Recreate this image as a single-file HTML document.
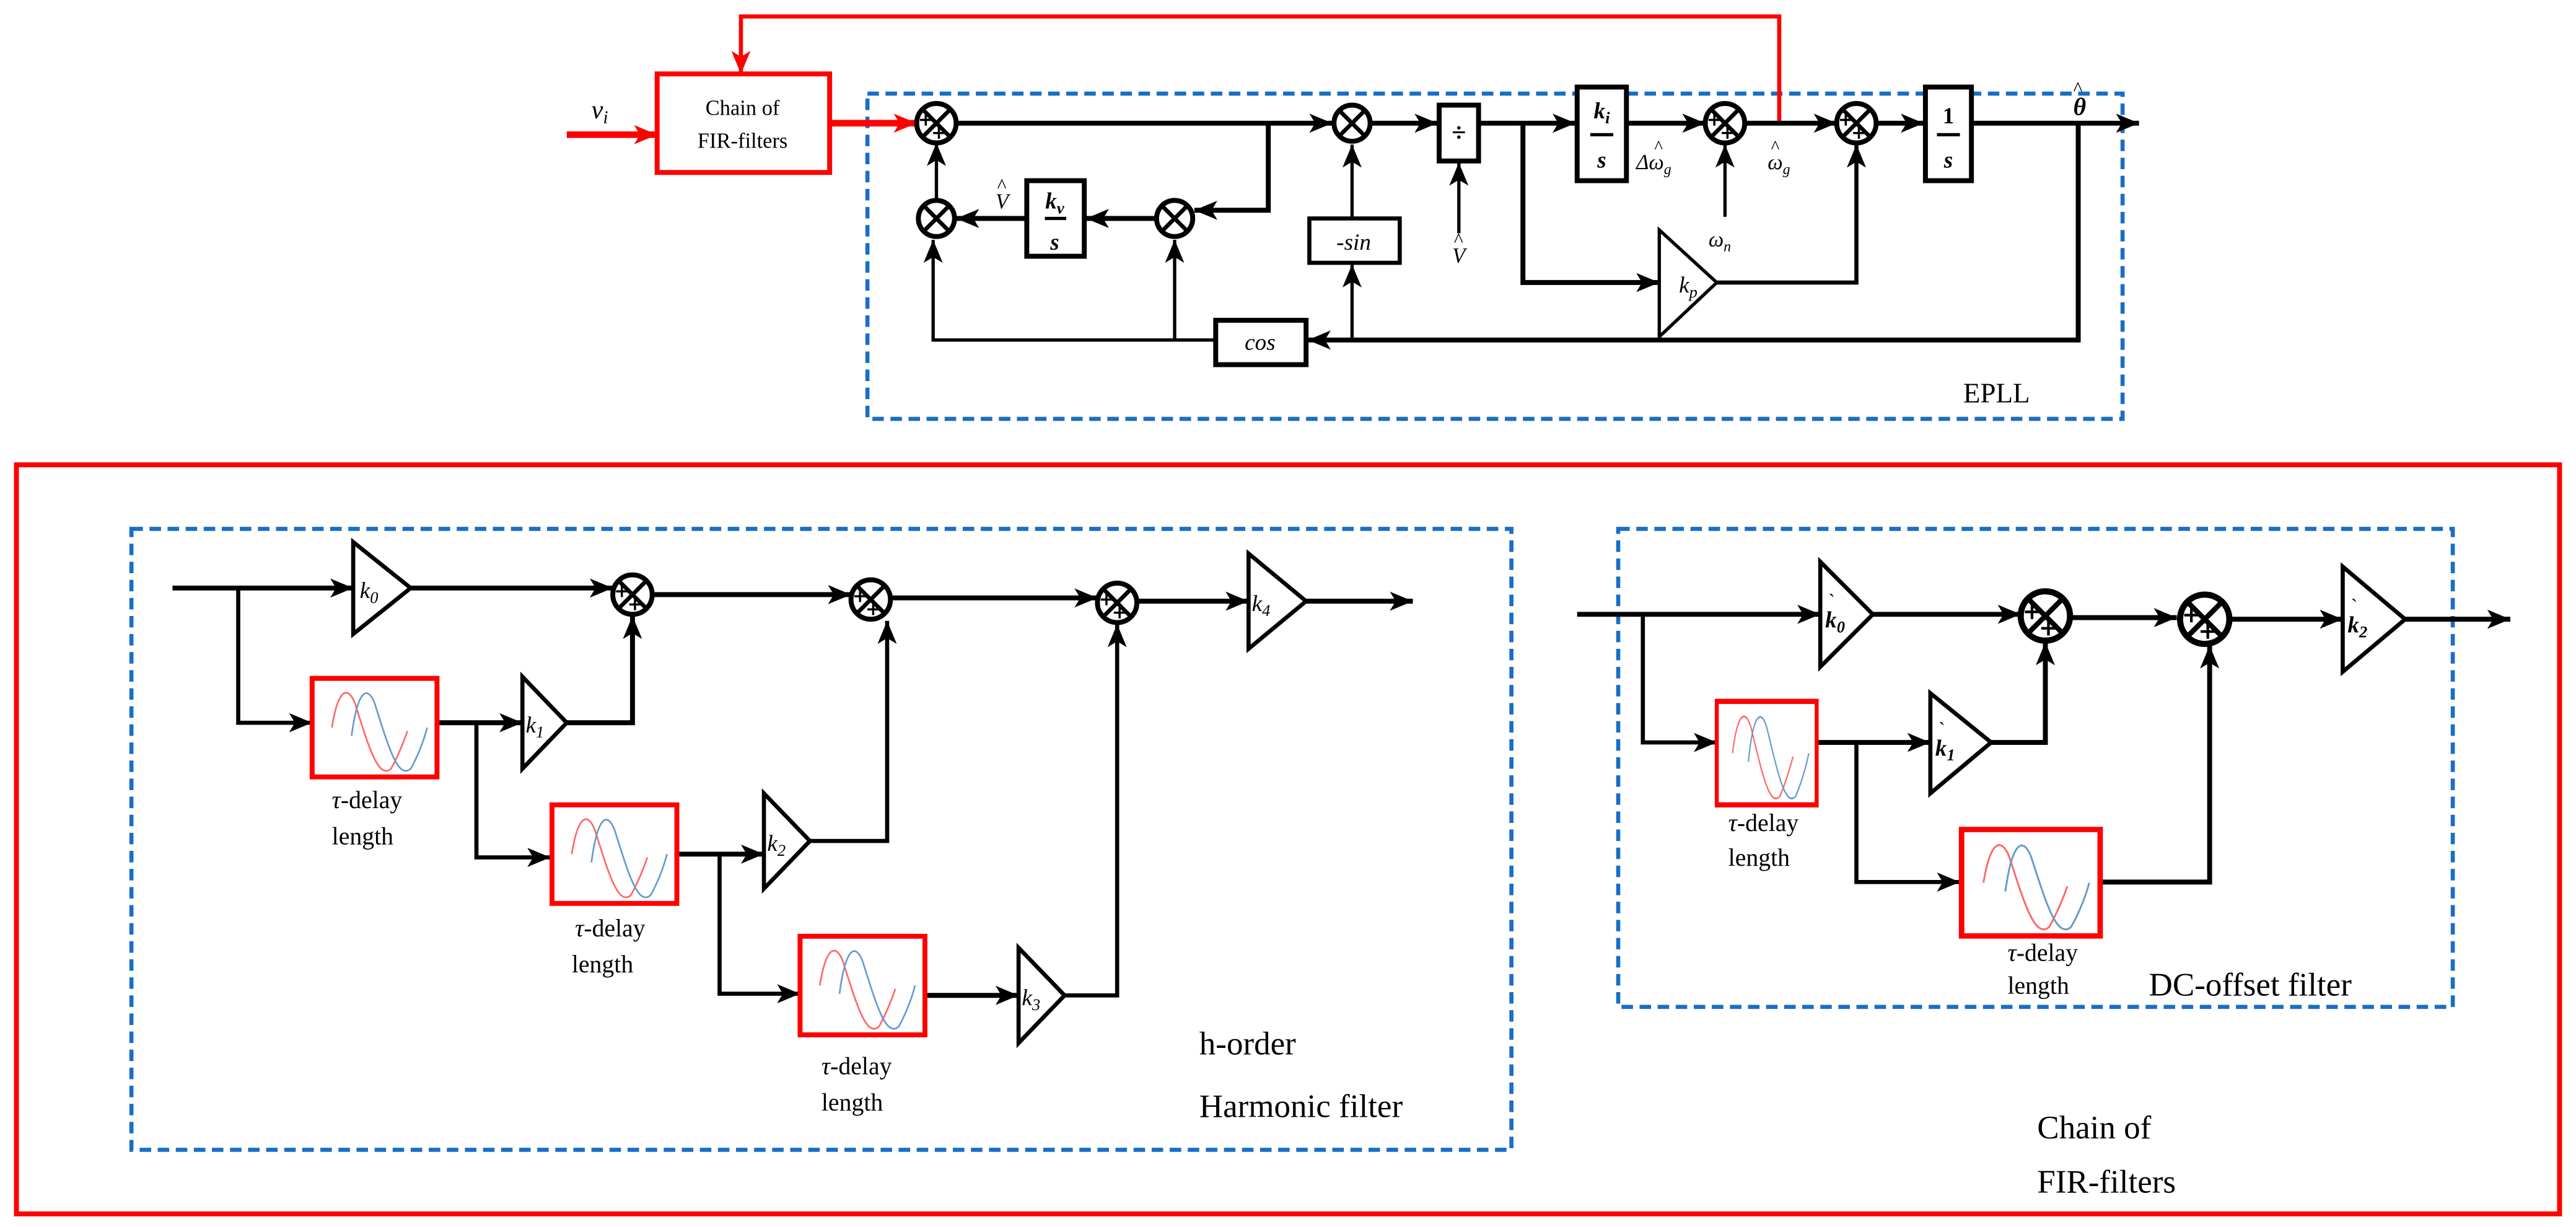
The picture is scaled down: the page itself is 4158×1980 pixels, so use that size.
<!DOCTYPE html>
<html><head><meta charset="utf-8"><style>
html,body{margin:0;padding:0;background:#fff;}
svg{display:block;font-family:"Liberation Serif",serif;}
</style></head><body>
<svg width="4158" height="1980" viewBox="0 0 1568 747" preserveAspectRatio="none" xmlns="http://www.w3.org/2000/svg" font-family="Liberation Serif, serif">
<defs>
<marker id="a" viewBox="0 0 12 10" refX="12" refY="5" markerWidth="14" markerHeight="12" markerUnits="userSpaceOnUse" orient="auto"><path d="M0,0 L12,5 L0,10 L3,5 Z" fill="#000"/></marker>
<marker id="r" viewBox="0 0 12 10" refX="12" refY="5" markerWidth="14" markerHeight="12" markerUnits="userSpaceOnUse" orient="auto"><path d="M0,0 L12,5 L0,10 L3,5 Z" fill="#f00"/></marker>
<g id="sx"><circle r="11" fill="#fff" stroke="#000" stroke-width="3"/><path d="M-7.5,-7.5 L7.5,7.5 M7.5,-7.5 L-7.5,7.5" stroke="#000" stroke-width="2.5"/></g>
<g id="sp"><circle r="12" fill="#fff" stroke="#000" stroke-width="3"/><path d="M-8.5,-8.5 L8.5,8.5 M8.5,-8.5 L-8.5,8.5" stroke="#000" stroke-width="2.5"/><path d="M-10,-2 h7 M-6.5,-5.5 v7 M-2,6 h7 M1.5,2.5 v7" stroke="#000" stroke-width="1.3"/></g>
<g id="dl"><rect x="0" y="0" width="76" height="60" fill="#fff" stroke="#f00" stroke-width="3"/>
<path d="M12,30 C16,5 22,5 26,15 C34,40 40,62 48,55 C52,48 56,38 58,32" fill="none" stroke="#f66" stroke-width="1"/>
<path d="M24,35 C28,5 34,5 38,15 C46,40 52,62 60,55 C64,48 68,38 70,30" fill="none" stroke="#69c" stroke-width="1"/></g>
</defs>
<g fill="none" stroke="#000" stroke-width="3">
<rect x="528" y="57" width="764" height="198" stroke="#1a6fc4" stroke-width="2.5" stroke-dasharray="7,4"/>
<path d="M1083,74 V10 H451 V45" stroke="#f00" stroke-width="2.5" marker-end="url(#r)"/>
<rect x="400" y="45" width="105" height="60" stroke="#f00" stroke-width="3" fill="#fff"/>
<path d="M345,82 H400" stroke="#f00" stroke-width="4" marker-end="url(#r)"/>
<path d="M505,75 H558" stroke="#f00" stroke-width="4" marker-end="url(#r)"/>
<path d="M581,75 H811" marker-end="url(#a)"/>
<path d="M772,75 V128 H727" marker-end="url(#a)"/>
<path d="M703,133 H661" marker-end="url(#a)"/>
<path d="M625,133 H582" marker-end="url(#a)"/>
<path d="M570,121 V87" stroke-width="2" marker-end="url(#a)"/>
<path d="M1265,75 V207 H796" marker-end="url(#a)"/>
<path d="M740,207 H568 V146" stroke-width="2" marker-end="url(#a)"/>
<path d="M715,207 V146" stroke-width="2" marker-end="url(#a)"/>
<path d="M823,207 V161" stroke-width="2" marker-end="url(#a)"/>
<path d="M823,133 V88" stroke-width="2" marker-end="url(#a)"/>
<path d="M835,75 H875" marker-end="url(#a)"/>
<path d="M888,142 V99" stroke-width="2" marker-end="url(#a)"/>
<path d="M900,75 H959" marker-end="url(#a)"/>
<path d="M927,75 V172 H1010" marker-end="url(#a)"/>
<path d="M1045,172 H1130 V88" stroke-width="2.5" marker-end="url(#a)"/>
<path d="M990,75 H1038" marker-end="url(#a)"/>
<path d="M1050,132 V88" stroke-width="2" marker-end="url(#a)"/>
<path d="M1062,75 H1118" marker-end="url(#a)"/>
<path d="M1142,75 H1171" marker-end="url(#a)"/>
<path d="M1200,75 H1302" marker-end="url(#a)"/>
<rect x="625" y="110" width="35" height="46" fill="#fff"/>
<rect x="797" y="133" width="55" height="27" fill="#fff" stroke-width="2.5"/>
<rect x="876" y="64" width="24" height="34" fill="#fff"/>
<rect x="960" y="53" width="30" height="57" fill="#fff"/>
<rect x="1172" y="53" width="28" height="57" fill="#fff"/>
<rect x="740" y="195" width="55" height="27" fill="#fff"/>
<path d="M1010,140 L1045,172 L1010,205 Z" fill="#fff" stroke-width="2"/>
<path d="M636,133 H649 M968,82 H982 M1179,82 H1193" stroke-width="2"/>
</g>
<use href="#sp" x="570" y="75"/>
<use href="#sx" x="570" y="133"/>
<use href="#sx" x="715" y="133"/>
<use href="#sx" x="823" y="75"/>
<use href="#sp" x="1050" y="75"/>
<use href="#sp" x="1130" y="75"/>
<g font-size="13">
<text x="452" y="70" text-anchor="middle">Chain of</text>
<text x="452" y="90" text-anchor="middle">FIR-filters</text>
<text x="360" y="72" font-style="italic" font-size="16">v<tspan font-size="11" dy="3">i</tspan></text>
<text x="642" y="127" text-anchor="middle" font-style="italic" font-weight="bold" font-size="14">k<tspan font-size="10" dy="3">v</tspan></text>
<text x="642" y="152" text-anchor="middle" font-style="italic" font-weight="bold" font-size="14">s</text>
<text x="975" y="72" text-anchor="middle" font-style="italic" font-weight="bold" font-size="14">k<tspan font-size="10" dy="3">i</tspan></text>
<text x="975" y="102" text-anchor="middle" font-style="italic" font-weight="bold" font-size="14">s</text>
<text x="1186" y="75" text-anchor="middle" font-weight="bold" font-size="14">1</text>
<text x="1186" y="102" text-anchor="middle" font-style="italic" font-weight="bold" font-size="14">s</text>
<text x="888" y="86" text-anchor="middle" font-weight="bold" font-size="16">÷</text>
<text x="824" y="152" text-anchor="middle" font-style="italic" font-size="14">-sin</text>
<text x="767" y="213" text-anchor="middle" font-style="italic" font-size="14">cos</text>
<text x="1022" y="178" font-style="italic" font-size="14">k<tspan font-size="10" dy="3">p</tspan></text>
<text x="606" y="127" font-style="italic" font-size="13">V</text><text x="607" y="117" font-size="12">^</text>
<text x="884" y="160" font-style="italic" font-size="13">V</text><text x="885" y="150" font-size="12">^</text>
<text x="996" y="103" font-style="italic" font-size="13">Δω<tspan font-size="9" dy="3">g</tspan></text><text x="1007" y="93" font-size="11">^</text>
<text x="1076" y="103" font-style="italic" font-size="13">ω<tspan font-size="9" dy="3">g</tspan></text><text x="1078" y="93" font-size="11">^</text>
<text x="1040" y="150" font-style="italic" font-size="13">ω<tspan font-size="9" dy="3">n</tspan></text>
<text x="1262" y="70" font-style="italic" font-weight="bold" font-size="15">θ</text><text x="1262" y="58" font-size="12">^</text>
<text x="1195" y="245" font-size="17">EPLL</text>
</g>
<g fill="none" stroke="#000" stroke-width="3">
<rect x="10" y="283" width="1548" height="456" stroke="#f00" stroke-width="3"/>
<rect x="80" y="322" width="840" height="378" stroke="#1a6fc4" stroke-width="2.5" stroke-dasharray="7,4"/>
<rect x="985" y="322" width="508" height="291" stroke="#1a6fc4" stroke-width="2.5" stroke-dasharray="7,4"/>
<path d="M105,358 H215" marker-end="url(#a)"/>
<path d="M145,358 V440 H190" stroke-width="2.5" marker-end="url(#a)"/>
<path d="M250,358 H373" marker-end="url(#a)"/>
<path d="M267,440 H318" marker-end="url(#a)"/>
<path d="M345,440 H385 V375" marker-end="url(#a)"/>
<path d="M290,440 V522 H335" stroke-width="2.5" marker-end="url(#a)"/>
<path d="M397,362 H518" marker-end="url(#a)"/>
<path d="M392,520 H465" marker-end="url(#a)"/>
<path d="M493,512 H540 V378" stroke-width="2.5" marker-end="url(#a)"/>
<path d="M438,520 V605 H487" stroke-width="2.5" marker-end="url(#a)"/>
<path d="M542,364 H668" marker-end="url(#a)"/>
<path d="M563,606 H620" marker-end="url(#a)"/>
<path d="M648,606 H680 V380" stroke-width="2.5" marker-end="url(#a)"/>
<path d="M692,366 H760" marker-end="url(#a)"/>
<path d="M795,366 H860" marker-end="url(#a)"/>
<path d="M215,330 L250,358 L215,386 Z" fill="#fff" stroke-width="2.5"/>
<path d="M318,412 L345,440 L318,468 Z" fill="#fff" stroke-width="2.5"/>
<path d="M465,483 L493,512 L465,541 Z" fill="#fff" stroke-width="2.5"/>
<path d="M620,577 L648,606 L620,635 Z" fill="#fff" stroke-width="2.5"/>
<path d="M760,337 L795,366 L760,395 Z" fill="#fff" stroke-width="2.5"/>
<path d="M960,374 H1108" marker-end="url(#a)"/>
<path d="M1000,374 V452 H1045" stroke-width="2.5" marker-end="url(#a)"/>
<path d="M1140,374 H1230" marker-end="url(#a)"/>
<path d="M1105,452 H1175" marker-end="url(#a)"/>
<path d="M1212,452 H1245 V391" marker-end="url(#a)"/>
<path d="M1130,452 V537 H1193" stroke-width="2.5" marker-end="url(#a)"/>
<path d="M1278,537 H1345 V393" marker-end="url(#a)"/>
<path d="M1260,376 H1325" marker-end="url(#a)"/>
<path d="M1355,377 H1426" marker-end="url(#a)"/>
<path d="M1464,377 H1528" marker-end="url(#a)"/>
<path d="M1108,342 L1140,374 L1108,406 Z" fill="#fff" stroke-width="2.5"/>
<path d="M1175,422 L1212,452 L1175,483 Z" fill="#fff" stroke-width="2.5"/>
<path d="M1426,345 L1464,377 L1426,409 Z" fill="#fff" stroke-width="2.5"/>
</g>
<use href="#dl" x="190" y="413"/>
<use href="#dl" x="336" y="490"/>
<use href="#dl" x="487" y="570"/>
<use href="#dl" x="1045" y="427" transform="translate(1045,427) scale(0.8,1.05) translate(-1045,-427)"/>
<use href="#dl" x="1194" y="505" transform="translate(1194,505) scale(1.11,1.08) translate(-1194,-505)"/>
<use href="#sp" x="385" y="362"/>
<use href="#sp" x="530" y="365"/>
<use href="#sp" x="680" y="367"/>
<use href="#sp" x="1245" y="375" transform="translate(1245,375) scale(1.25) translate(-1245,-375)"/>
<use href="#sp" x="1342" y="377" transform="translate(1342,377) scale(1.25) translate(-1342,-377)"/>
<g font-size="14">
<text x="219" y="364" font-style="italic">k<tspan font-size="10" dy="3">0</tspan></text>
<text x="320" y="446" font-style="italic">k<tspan font-size="10" dy="3">1</tspan></text>
<text x="467" y="518" font-style="italic">k<tspan font-size="10" dy="3">2</tspan></text>
<text x="622" y="612" font-style="italic">k<tspan font-size="10" dy="3">3</tspan></text>
<text x="762" y="372" font-style="italic">k<tspan font-size="10" dy="3">4</tspan></text>
<text x="1111" y="382" font-style="italic" font-weight="bold">k<tspan font-size="10" dy="3">0</tspan></text><text x="1113" y="370" font-size="12">`</text>
<text x="1178" y="460" font-style="italic" font-weight="bold">k<tspan font-size="10" dy="3">1</tspan></text><text x="1180" y="448" font-size="12">`</text>
<text x="1429" y="385" font-style="italic" font-weight="bold">k<tspan font-size="10" dy="3">2</tspan></text><text x="1431" y="373" font-size="12">`</text>
<text x="202" y="492" font-size="15"><tspan font-style="italic">τ</tspan>-delay</text>
<text x="202" y="514" font-size="15">length</text>
<text x="350" y="570" font-size="15"><tspan font-style="italic">τ</tspan>-delay</text>
<text x="348" y="592" font-size="15">length</text>
<text x="500" y="654" font-size="15"><tspan font-style="italic">τ</tspan>-delay</text>
<text x="500" y="676" font-size="15">length</text>
<text x="1052" y="506" font-size="15"><tspan font-style="italic">τ</tspan>-delay</text>
<text x="1052" y="527" font-size="15">length</text>
<text x="1222" y="585" font-size="15"><tspan font-style="italic">τ</tspan>-delay</text>
<text x="1222" y="605" font-size="15">length</text>
<text x="730" y="642" font-size="20">h-order</text>
<text x="730" y="680" font-size="20">Harmonic filter</text>
<text x="1308" y="606" font-size="20">DC-offset filter</text>
<text x="1240" y="693" font-size="20">Chain of</text>
<text x="1240" y="726" font-size="20">FIR-filters</text>
</g>
</svg>
</body></html>
